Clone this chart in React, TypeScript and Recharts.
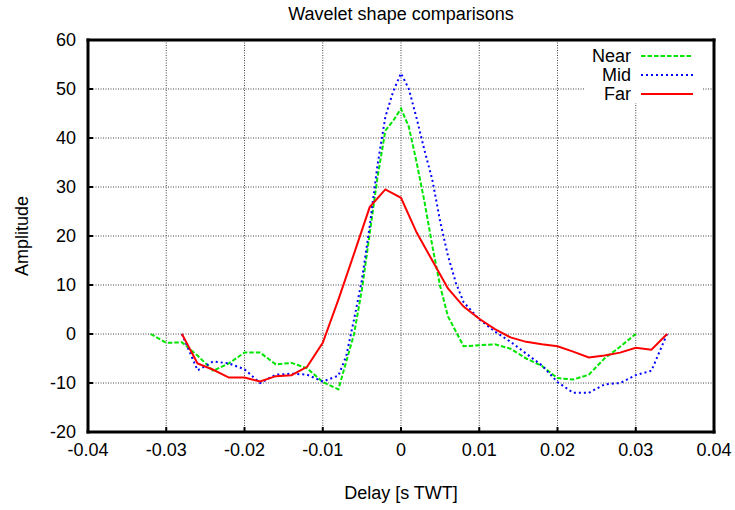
import React from "react";
import { LineChart, Line, XAxis, YAxis, CartesianGrid, Legend } from "recharts";

const FONT = "'Liberation Sans', Arial, Helvetica, sans-serif";

// delay [s TWT] and amplitude for each offset class
const nearX = [
  -0.032, -0.03, -0.028, -0.026, -0.024, -0.022, -0.02, -0.018, -0.016, -0.014,
  -0.012, -0.01, -0.008, -0.006, -0.005, -0.004, -0.003, -0.002, -0.001, 0,
  0.001, 0.002, 0.003, 0.004, 0.005, 0.006, 0.008, 0.01, 0.012, 0.014, 0.016,
  0.018, 0.02, 0.022, 0.024, 0.026, 0.028, 0.03,
];
const nearY = [
  0, -1.8, -1.7, -4.4, -7.5, -6, -3.8, -3.8, -6.2, -5.9, -7, -9.8, -11.3, 0, 9,
  20.5, 32, 41.5, 43.5, 46, 42.3, 35, 27, 18, 9.8, 3.6, -2.5, -2.3, -2.1, -3,
  -5, -6.5, -9, -9.3, -8.3, -5, -2.6, 0,
];

const midX = [
  -0.028, -0.026, -0.024, -0.022, -0.02, -0.018, -0.016, -0.014, -0.012, -0.01,
  -0.008, -0.007, -0.006, -0.005, -0.004, -0.003, -0.002, -0.001, 0, 0.001,
  0.002, 0.003, 0.004, 0.005, 0.006, 0.007, 0.008, 0.01, 0.012, 0.014, 0.016,
  0.018, 0.02, 0.022, 0.024, 0.026, 0.028, 0.03, 0.032, 0.034,
];
const midY = [
  0, -7.4, -5.6, -6, -7.2, -10, -8.3, -8.1, -8.3, -9.7, -8.5, -4.5, 3, 11, 22,
  34.5, 44.3, 49.5, 53.2, 50, 44, 37.5, 31.5, 23, 16, 10.5, 6.5, 3, 0.5, -1.6,
  -4, -6.4, -9.8, -12, -12, -10.3, -10, -8.4, -7.5, 0,
];

const farX = [
  -0.028, -0.026, -0.024, -0.022, -0.02, -0.018, -0.016, -0.014, -0.012, -0.01,
  -0.008, -0.006, -0.004, -0.002, 0, 0.002, 0.004, 0.006, 0.008, 0.01, 0.012,
  0.014, 0.016, 0.018, 0.02, 0.022, 0.024, 0.026, 0.028, 0.03, 0.032, 0.034,
];
const farY = [
  0, -6, -7.3, -8.9, -8.9, -9.7, -8.6, -8.4, -6.7, -1.8, 7, 16.4, 25.9, 29.5,
  27.8, 20.7, 15, 9.3, 5.6, 3.1, 1, -0.7, -1.6, -2.1, -2.5, -3.6, -4.8, -4.4,
  -3.8, -2.8, -3.2, 0,
];

const xTicks = [-0.04, -0.03, -0.02, -0.01, 0, 0.01, 0.02, 0.03, 0.04];
const yTicks = [-20, -10, 0, 10, 20, 30, 40, 50, 60];

const SERIES = [
  { name: "Near", color: "#00e600", dash: "4.5 2", xs: nearX, ys: nearY },
  { name: "Mid", color: "#0000ff", dash: "2 3", xs: midX, ys: midY },
  { name: "Far", color: "#ff0000", dash: undefined, xs: farX, ys: farY },
];

function toPoints(xs: number[], ys: number[]) {
  return xs.map((x, i) => ({ x, y: ys[i] }));
}

const fmtX = (v: number) => (v === 0 ? "0" : v.toFixed(2));

const KeyBox = () => (
  <div
    style={{
      position: "relative",
      width: 118,
      height: 61,
      background: "#fff",
      fontFamily: FONT,
      fontSize: 18,
      color: "#000",
    }}
  >
    {SERIES.map((s, i) => (
      <div key={s.name}>
        <span
          style={{
            position: "absolute",
            right: 118 - 46,
            top: 14 + i * 19 - 11,
            lineHeight: "22px",
            whiteSpace: "nowrap",
          }}
        >
          {s.name}
        </span>
        <svg
          width={52}
          height={6}
          style={{ position: "absolute", left: 56, top: 14 + i * 19 - 3 }}
        >
          <line
            x1={0}
            y1={3}
            x2={52}
            y2={3}
            stroke={s.color}
            strokeWidth={2}
            strokeDasharray={s.dash}
          />
        </svg>
      </div>
    ))}
  </div>
);

export default function App() {
  const axisLine = { stroke: "#000", strokeWidth: 3, strokeLinecap: "square" as const };
  const tickLine = { stroke: "#000", strokeWidth: 2 };
  const tickStyle = { fill: "#000", fontSize: 18, fontFamily: FONT };

  return (
    <div
      style={{
        position: "absolute",
        left: 0,
        top: 0,
        width: 735,
        height: 510,
        background: "#fff",
        fontFamily: FONT,
      }}
    >
      <LineChart
        width={735}
        height={510}
        margin={{ top: 39, right: 20, left: 28, bottom: 38 }}
      >
        <CartesianGrid stroke="#444" strokeDasharray="1 1.5" strokeWidth={1} />
        <XAxis
          dataKey="x"
          type="number"
          domain={[-0.04, 0.04]}
          ticks={xTicks}
          tickFormatter={fmtX}
          height={40}
          axisLine={axisLine}
          tickLine={tickLine}
          tickSize={-5}
          tickMargin={16}
          tick={tickStyle}
          interval={0}
          label={{
            value: "Delay [s TWT]",
            position: "bottom",
            offset: 14,
            fill: "#000",
            fontSize: 18,
          }}
        />
        <XAxis
          xAxisId="top"
          orientation="top"
          dataKey="x"
          type="number"
          domain={[-0.04, 0.04]}
          ticks={xTicks}
          height={1}
          axisLine={axisLine}
          tickLine={tickLine}
          tickSize={-5}
          tick={false}
          interval={0}
          label={{
            value: "Wavelet shape comparisons",
            position: "top",
            offset: 19,
            fill: "#000",
            fontSize: 18,
          }}
        />
        <YAxis
          type="number"
          domain={[-20, 60]}
          ticks={yTicks}
          width={60}
          axisLine={axisLine}
          tickLine={tickLine}
          tickSize={-5}
          tickMargin={17}
          tick={tickStyle}
          interval={0}
          label={{
            value: "Amplitude",
            position: "left",
            angle: -90,
            offset: 6,
            fill: "#000",
            fontSize: 18,
            style: { textAnchor: "middle" },
          }}
        />
        <YAxis
          yAxisId="right"
          orientation="right"
          type="number"
          domain={[-20, 60]}
          ticks={yTicks}
          width={1}
          axisLine={axisLine}
          tickLine={tickLine}
          tickSize={-5}
          tick={false}
          interval={0}
        />
        {SERIES.map((s) => (
          <Line
            key={s.name}
            name={s.name}
            data={toPoints(s.xs, s.ys)}
            dataKey="y"
            type="linear"
            stroke={s.color}
            strokeWidth={2}
            strokeDasharray={s.dash}
            dot={false}
            activeDot={false}
            isAnimationActive={false}
          />
        ))}
        {/* hidden copy so the mirrored frame axes have a series to belong to */}
        <Line
          xAxisId="top"
          yAxisId="right"
          data={toPoints(farX, farY)}
          dataKey="y"
          stroke="none"
          legendType="none"
          dot={false}
          activeDot={false}
          isAnimationActive={false}
        />
        <Legend
          layout="vertical"
          align="center"
          verticalAlign="middle"
          content={() => <KeyBox />}
          wrapperStyle={{ left: 585, top: 42, width: 118, height: 61 }}
        />
      </LineChart>
    </div>
  );
}
